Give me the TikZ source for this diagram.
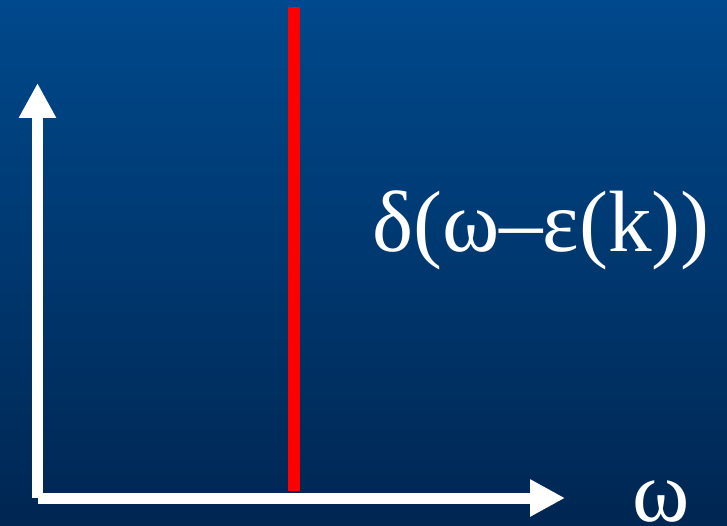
\documentclass[tikz,border=0pt]{standalone}
\usepackage{fontspec}
\setmainfont{Liberation Serif}
\usetikzlibrary{arrows.meta,positioning}
\definecolor{skytop}{HTML}{00498C}
\definecolor{skybottom}{HTML}{002652}
\definecolor{peakred}{HTML}{FF0000}

\begin{document}
\begin{tikzpicture}[
    x=1pt, y=-1pt,
    axis/.style={draw=white, line width=11pt, -{Triangle[length=35pt,width=35pt]}},
    peak/.style={draw=peakred, line width=12pt},
    biglabel/.style={text=white, inner sep=0pt, font=\fontsize{87}{100}\selectfont}
]

% background
\shade[top color=skytop, bottom color=skybottom] (0,0) rectangle (727,526);
\useasboundingbox (0,0) rectangle (727,526);

\coordinate (origin) at (37.5,498);
\coordinate (ytip) at (37.5,83);
\coordinate (xstart) at (37.5,498);
\coordinate (xtip) at (565,498);
\coordinate (peaktop) at (294,7);
\coordinate (peakbottom) at (294,491);

\draw[peak] (peakbottom) -- (peaktop);
\draw[axis] (origin) -- (ytip);
\draw[axis] (xstart) -- (xtip);

\node[biglabel, anchor=base west] (delta) at (372,252) {δ(ω–ε(k))};
\node[biglabel, anchor=base west] (omega) at (632,521) {ω};

\end{tikzpicture}
\end{document}
